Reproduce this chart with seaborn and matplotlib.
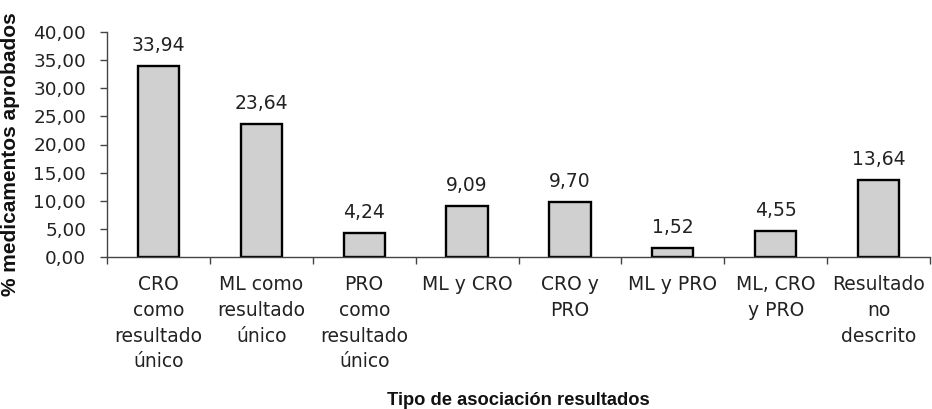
import matplotlib
matplotlib.use("Agg")
import matplotlib.pyplot as plt
from matplotlib.ticker import FuncFormatter, FixedLocator
import seaborn as sns
import pandas as pd

categorias = [
    "CRO\ncomo\nresultado\núnico",
    "ML como\nresultado\núnico",
    "PRO\ncomo\nresultado\núnico",
    "ML y CRO",
    "CRO y\nPRO",
    "ML y PRO",
    "ML, CRO\ny PRO",
    "Resultado\nno\ndescrito",
]
porcentajes = [33.94, 23.64, 4.24, 9.09, 9.70, 1.52, 4.55, 13.64]

df = pd.DataFrame({"tipo": categorias, "pct": porcentajes})

sns.set_style("white")
plt.rcParams["font.family"] = ["DejaVu Sans"]

fig = plt.figure(figsize=(9.32, 4.09), dpi=100)
ax = fig.add_axes([107 / 932, 1 - 257 / 409, 823 / 932, 225 / 409])

sns.barplot(data=df, x="tipo", y="pct", ax=ax, color="#D0D0D0",
            edgecolor="black", linewidth=1.7, width=0.4, saturation=1)

coma = lambda v: f"{v:.2f}".replace(".", ",")
ax.bar_label(ax.containers[0], labels=[coma(v) for v in porcentajes],
             padding=8, fontsize=13.5, color="#222222")

ax.set_ylim(0, 40)
ax.set_xlim(-0.5, len(categorias) - 0.5)
ax.set_yticks([0, 5, 10, 15, 20, 25, 30, 35, 40])
ax.yaxis.set_major_formatter(FuncFormatter(lambda v, p: coma(v)))

for s in ["top", "right"]:
    ax.spines[s].set_visible(False)
for s in ["left", "bottom"]:
    ax.spines[s].set_color("#444444")
    ax.spines[s].set_linewidth(1.0)

ax.tick_params(axis="y", direction="out", length=5, width=1, color="#444444",
               pad=10, labelsize=13.3, labelcolor="#222222", left=True)
ax.tick_params(axis="x", which="major", length=0, pad=13, labelsize=13.5,
               labelcolor="#222222")
ax.xaxis.set_minor_locator(FixedLocator([i - 0.5 for i in range(len(categorias) + 1)]))
ax.tick_params(axis="x", which="minor", direction="out", length=5, width=1,
               color="#444444", bottom=True)
for lbl in ax.get_xticklabels():
    lbl.set_linespacing(1.45)

ax.set_xlabel("Tipo de asociación resultados", fontsize=13.2, fontweight="bold",
              color="#111111", family="Liberation Sans")
ax.xaxis.set_label_coords(0.5, -0.636)
ax.xaxis.label.set_va("center")
ax.set_ylabel("% medicamentos aprobados", fontsize=15, fontweight="bold",
              color="#111111", family="Liberation Sans")
ax.yaxis.set_label_coords(-0.117, 0.458)
ax.yaxis.label.set_va("center")

fig.savefig("out.png", dpi=100)
